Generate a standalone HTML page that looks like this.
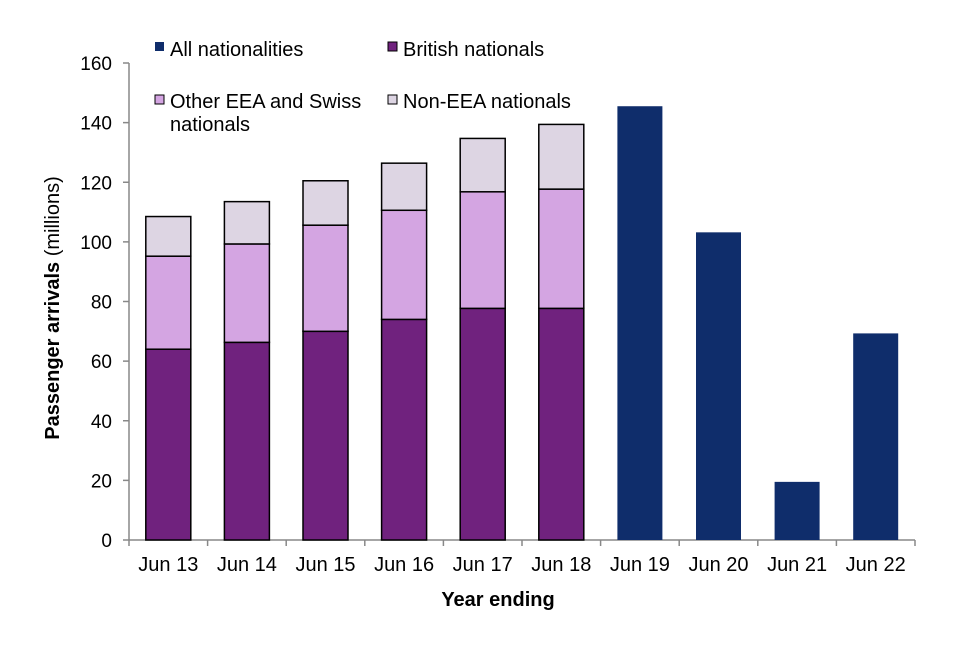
<!DOCTYPE html>
<html><head><meta charset="utf-8"><style>
body{margin:0;background:#fff;font-family:"Liberation Sans",Arial,sans-serif}
svg text{font-family:"Liberation Sans",Arial,sans-serif;fill:#000}
</style></head><body>
<svg id="chart" width="960" height="640">
<g id="legend">
<g><rect x="155" y="42" width="9" height="9" fill="#0f2d6b"/><text x="170" y="56" font-size="20">All nationalities</text></g>
<g><rect x="388" y="42" width="9" height="9" fill="#70227e" stroke="#000" stroke-width="1"/><text x="403" y="56" font-size="20">British nationals</text></g>
<g><rect x="155" y="95" width="9" height="9" fill="#d4a5e2" stroke="#000" stroke-width="1"/><text x="170" y="108" font-size="20">Other EEA and Swiss</text><text x="170" y="131" font-size="20">nationals</text></g>
<g><rect x="388" y="95" width="9" height="9" fill="#ddd5e3" stroke="#000" stroke-width="1"/><text x="403" y="108" font-size="20">Non-EEA nationals</text></g>
</g>
<text transform="translate(59,308) rotate(-90)" text-anchor="middle" font-size="20"><tspan font-weight="bold">Passenger arrivals</tspan> (millions)</text>
<text x="498" y="606" text-anchor="middle" font-size="20" font-weight="bold">Year ending</text>
</svg>
<script>
const categories=["Jun 13","Jun 14","Jun 15","Jun 16","Jun 17","Jun 18","Jun 19","Jun 20","Jun 21","Jun 22"];
const british=[64,66.3,70,74,77.7,77.7,null,null,null,null];
const otherEEA=[31.2,33,35.6,36.6,39.1,40,null,null,null,null];
const nonEEA=[13.3,14.2,14.9,15.8,17.9,21.7,null,null,null,null];
const allNationalities=[null,null,null,null,null,null,145.5,103.2,19.5,69.3];
const yTicks=[0,20,40,60,80,100,120,140,160];
const svg=document.getElementById('chart');
const NS='http://www.w3.org/2000/svg';
const x0=129,plotW=786,y0=540,yTop=63,yMax=160;
const step=plotW/categories.length,barW=45;
function yScale(v){return y0-(v/yMax)*(y0-yTop);}
function xCenter(i){return x0+step*(i+0.5);}
function mk(tag,attrs){const e=document.createElementNS(NS,tag);for(const k in attrs)e.setAttribute(k,attrs[k]);svg.appendChild(e);return e;}
let a=mk('line',{x1:x0,y1:yTop,x2:x0,y2:y0,stroke:'#888','stroke-width':1.5});


a=mk('line',{x1:x0,y1:y0,x2:x0+plotW,y2:y0,stroke:'#888','stroke-width':1.5});


yTicks.forEach(v=>{const y=yScale(v);
 const t=mk('line',{x1:x0-6,y1:y,x2:x0,y2:y,stroke:'#888','stroke-width':1.5});
 
 
 const l=mk('text',{x:x0-17,y:y+7,'text-anchor':'end','font-size':19});l.textContent=v;
 
 
});
for(let i=0;i<=categories.length;i++){const x=x0+step*i;
 const t=mk('line',{x1:x,y1:y0,x2:x,y2:y0+6,stroke:'#888','stroke-width':1.5});
 
 
}
categories.forEach((c,i)=>{
 const l=mk('text',{x:xCenter(i),y:571,'text-anchor':'middle','font-size':20});l.textContent=c;
 
 
 const bx=xCenter(i)-barW/2;
 if(allNationalities[i]!=null){
  const r=mk('rect',{x:bx,y:yScale(allNationalities[i]),width:barW,height:y0-yScale(allNationalities[i]),fill:'#0f2d6b'});
  
  
 } else {
  let base=0;
  [[british,'#70227e','bar-british'],[otherEEA,'#d4a5e2','bar-other-eea'],[nonEEA,'#ddd5e3','bar-non-eea']].forEach(([arr,col,nm])=>{
   const top=base+arr[i];
   const r=mk('rect',{x:bx,y:yScale(top),width:barW,height:yScale(base)-yScale(top),fill:col,stroke:'#000','stroke-width':1.5});
   
   
   base=top;
  });
 }
});
</script>
</body></html>
